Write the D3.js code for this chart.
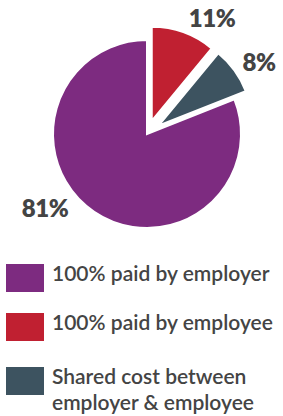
<!DOCTYPE html>
<html>
<head>
<meta charset="utf-8">
<script src="https://cdn.jsdelivr.net/npm/d3@7"></script>
<style>
  body { margin: 0; background: #fff; }
  text { font-family: Lato, "Open Sans", sans-serif; fill: #444; }
</style>
</head>
<body>
<div id="container"></div>
<script>
// DATA
const categories = ["100% paid by employer", "100% paid by employee", "Shared cost between employer & employee"]
const values = [81, 11, 8]
const colors = ["#7d2b80", "#c02031", "#3d5360"]
const legendLines = [["100% paid by employer"], ["100% paid by employee"], ["Shared cost between", "employer & employee"]]

// VARIABLES
const width = 283, height = 416,
      cx = 147, cy = 134, radius = 94

const data = categories.map((c, i) => ({name: c, value: values[i], color: colors[i], lines: legendLines[i]}))
// draw order: employee, shared, then employer wraps round the rest
const ordered = [data[1], data[2], data[0]]

const pie = d3.pie().sort(null).value(d => d.value)
const arc = d3.arc().innerRadius(0).outerRadius(radius)
const arcs = pie(ordered)

const svg = d3.select("#container").append("svg")
    .attr("width", width).attr("height", height)

const g = svg.append("g").attr("transform", `translate(${cx},${cy})`)

const explode = d => d.data.value === 81 ? 0 : 14

g.selectAll("path")
  .data(arcs)
  .join("path")
    .attr("d", arc)
    .attr("fill", d => d.data.color)
    .attr("stroke", "#fff")
    .attr("stroke-width", 2)
    .attr("transform", d => {
      const a = (d.startAngle + d.endAngle) / 2, r = explode(d)
      return `translate(${Math.sin(a) * r},${-Math.cos(a) * r})`
    })

// percent labels
const labelPos = {11: [212, 27], 8: [259, 71], 81: [45, 217]}
svg.selectAll("text.pct")
  .data(arcs)
  .join("text")
    .attr("class", "pct")
    .attr("x", d => labelPos[d.data.value][0])
    .attr("y", d => labelPos[d.data.value][1])
    .attr("text-anchor", "middle")
    .attr("font-size", 24)
    .attr("font-weight", 800)
    .attr("letter-spacing", -0.5)
    .text(d => d.data.value + "%")

// legend
const legendY = [264, 313, 367]
const leg = svg.selectAll("g.leg")
  .data(data)
  .join("g")
    .attr("class", "leg")
    .attr("transform", (d, i) => `translate(6,${legendY[i]})`)

leg.append("rect")
    .attr("width", 38).attr("height", 28)
    .attr("fill", d => d.color)

leg.append("text")
    .attr("font-size", 21)
    .attr("font-weight", 600)
  .selectAll("tspan")
  .data(d => d.lines)
  .join("tspan")
    .attr("x", 46)
    .attr("y", (d, i) => 17 + i * 26)
    .text(d => d)
</script>
</body>
</html>
